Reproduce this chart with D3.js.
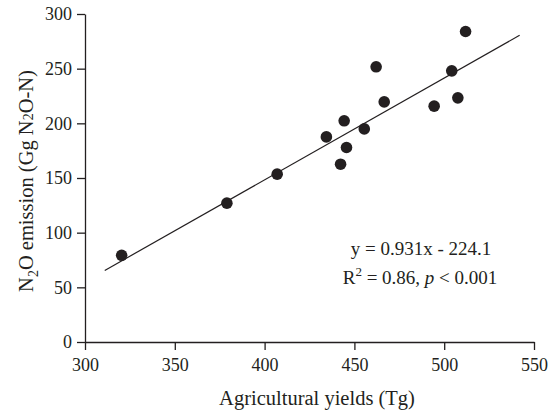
<!DOCTYPE html>
<html>
<head>
<meta charset="utf-8">
<script src="https://cdn.jsdelivr.net/npm/d3@7"></script>
<style>
  body { margin: 0; background: #fff; }
  svg { display: block; font-family: "Liberation Serif", "Times New Roman", serif; }
</style>
</head>
<body>
<svg id="chart"></svg>
<script>
// values
const yields    = [320.4, 379, 407, 434.4, 442.3, 444.3, 445.6, 455.5, 462.1, 466.6, 494.4, 504.2, 507.6, 511.9]
const emissions = [79.3, 127, 153.5, 187.6, 162.6, 202.3, 177.9, 194.9, 251.7, 219.6, 215.7, 248, 223.3, 284]
const xTicks = [300, 350, 400, 450, 500, 550]
const yTicks = [0, 50, 100, 150, 200, 250, 300]
const fitSlope = 0.931
const fitIntercept = -224.1
const fitFrom = 311
const fitTo = 542

function draw(){
    const width = 548
    const height = 411
    const ink = '#231f20'
    const svg = d3.select('#chart')
        .attr('width', width)
        .attr('height', height)

    const x = d3.scaleLinear()
        .domain([300, 550])
        .range([85, 534])
    const y = d3.scaleLinear()
        .domain([0, 300])
        .range([342, 14])

    const xAxis = d3.axisBottom(x)
        .tickValues(xTicks)
        .tickSize(8)
        .tickSizeOuter(0)
        .tickPadding(8)
        .tickFormat(d3.format('d'))
    svg.append('g')
        .attr('transform', 'translate(0,' + y(0) + ')')
        .call(xAxis)

    const yAxis = d3.axisLeft(y)
        .tickValues(yTicks)
        .tickSize(8)
        .tickSizeOuter(0)
        .tickPadding(5)
        .tickFormat(d3.format('d'))
    svg.append('g')
        .attr('transform', 'translate(' + x(300) + ',0)')
        .call(yAxis)

    svg.selectAll('.domain, .tick line')
        .attr('stroke', ink)
        .attr('stroke-width', 1.3)
    svg.selectAll('.tick text')
        .attr('fill', ink)
        .style('font-size', '18px')
        .style('font-family', '"Liberation Serif", serif')

    // regression line
    svg.append('line')
        .attr('x1', x(fitFrom))
        .attr('y1', y(fitSlope * fitFrom + fitIntercept))
        .attr('x2', x(fitTo))
        .attr('y2', y(fitSlope * fitTo + fitIntercept))
        .attr('stroke', ink)
        .attr('stroke-width', 1.2)

    svg.selectAll('circle')
        .data(yields)
        .enter()
        .append('circle')
        .attr('cx', d => x(d))
        .attr('cy', (d, i) => y(emissions[i]))
        .attr('r', 5.8)
        .attr('fill', ink)

    // equation
    svg.append('text')
        .attr('x', 421)
        .attr('y', 255)
        .attr('text-anchor', 'middle')
        .style('font-size', '19px')
        .attr('fill', ink)
        .text('y = ' + fitSlope + 'x - ' + Math.abs(fitIntercept))

    const r2 = svg.append('text')
        .attr('x', 420)
        .attr('y', 284)
        .attr('text-anchor', 'middle')
        .style('font-size', '19px')
        .attr('fill', ink)
    r2.append('tspan').text('R')
    r2.append('tspan').attr('dy', -8).style('font-size', '13px').text('2')
    r2.append('tspan').attr('dy', 8).text(' = 0.86, ')
    r2.append('tspan').style('font-style', 'italic').text('p')
    r2.append('tspan').text(' < 0.001')

    // axis titles
    svg.append('text')
        .attr('x', 317)
        .attr('y', 405)
        .attr('text-anchor', 'middle')
        .style('font-size', '20.5px')
        .attr('fill', ink)
        .text('Agricultural yields (Tg)')

    const yl = svg.append('text')
        .attr('transform', 'translate(33,181) rotate(-90)')
        .attr('text-anchor', 'middle')
        .style('font-size', '20.5px')
        .attr('fill', ink)
    yl.append('tspan').text('N')
    yl.append('tspan').attr('dy', 5).style('font-size', '14px').text('2')
    yl.append('tspan').attr('dy', -5).text('O emission (Gg N')
    yl.append('tspan').style('font-size', '14px').text('2')
    yl.append('tspan').text('O-N)')
}

draw()
</script>
</body>
</html>
